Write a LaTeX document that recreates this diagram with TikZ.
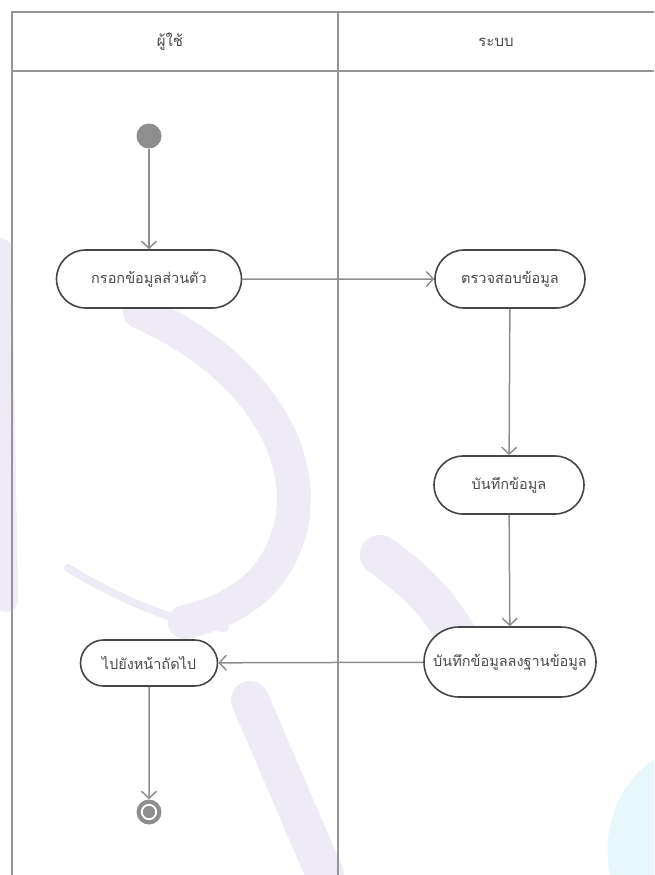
\documentclass[tikz,border=0pt]{standalone}
\usepackage{fontspec}
\newfontfamily\thaifont[Script=Thai]{Loma}
\usetikzlibrary{arrows.meta,shapes.misc}
\definecolor{lanegray}{HTML}{959595}
\definecolor{edgegray}{HTML}{8E8E8E}
\definecolor{boxline}{HTML}{454545}
\definecolor{txt}{HTML}{4A4A4A}
\definecolor{wmark}{HTML}{EEEAF6}
\definecolor{wcyan}{HTML}{E8F7FB}
\tikzset{
  lane/.style={draw=lanegray, line width=2pt},
  act/.style={rounded rectangle, draw=boxline, line width=1.6pt, fill=white,
    text=txt, font=\thaifont\fontsize{14.5}{17}\selectfont, inner sep=0pt},
  flow/.style={draw=edgegray, line width=1.5pt,
    -{Straight Barb[length=7pt,width=15pt,line width=1.5pt]}},
  head/.style={text=txt, font=\thaifont\fontsize{15}{18}\selectfont},
  startdot/.style={circle, fill=edgegray, minimum size=25pt, inner sep=0pt},
}
\begin{document}
\begin{tikzpicture}[x=1pt,y=-1pt]
\useasboundingbox (0,0) rectangle (654,875);
% faint background lettering
\begin{scope}[line cap=round]
  \draw[wmark, line width=34pt] (140,312) .. controls (250,360) and (310,450) .. (290,530)
        .. controls (275,585) and (235,610) .. (185,622);
  \draw[wmark, line width=8pt] (68,568) .. controls (120,600) and (180,625) .. (225,628);
  \draw[wmark, line width=24pt] (0,250) -- (6,600);
  \draw[wmark, line width=40pt] (380,555) .. controls (430,590) and (450,620) .. (470,660);
  \draw[wmark, line width=38pt] (250,700) -- (325,875);
  \fill[wcyan] (654,760) .. controls (620,780) and (600,830) .. (610,875) -- (654,875) -- cycle;
\end{scope}
% swimlanes
\draw[lane] (654,12) -- (12,12) -- (12,875);
\draw[lane] (12,71) -- (654,71);
\draw[lane] (338,12) -- (338,875);
\node[head] (hUser) at (170,42) {ผู้ใช้};
\node[head] (hSys) at (496,42) {ระบบ};
% activities
\node[startdot] (start) at (149,136) {};
\node[act, minimum width=185pt, minimum height=58pt] (fill) at (149,279) {กรอกข้อมูลส่วนตัว};
\node[act, minimum width=150pt, minimum height=58pt] (check) at (510,279) {ตรวจสอบข้อมูล};
\node[act, minimum width=150pt, minimum height=58pt] (save) at (509,485) {บันทึกข้อมูล};
\node[act, minimum width=172pt, minimum height=70pt] (db) at (510,662) {บันทึกข้อมูลลงฐานข้อมูล};
\node[act, minimum width=137pt, minimum height=46pt] (next) at (149,663) {ไปยังหน้าถัดไป};
\node[startdot] (stop) at (149,812) {};
\draw[white, line width=1.8pt] (stop.center) circle (7.2pt);
% flows
\draw[flow] (start) -- (fill);
\draw[flow] (fill) -- (check);
\draw[flow] (check) -- (save);
\draw[flow] (save) -- (db);
\draw[flow] (db) -- (next);
\draw[flow] (next) -- (stop);
\end{tikzpicture}
\end{document}
